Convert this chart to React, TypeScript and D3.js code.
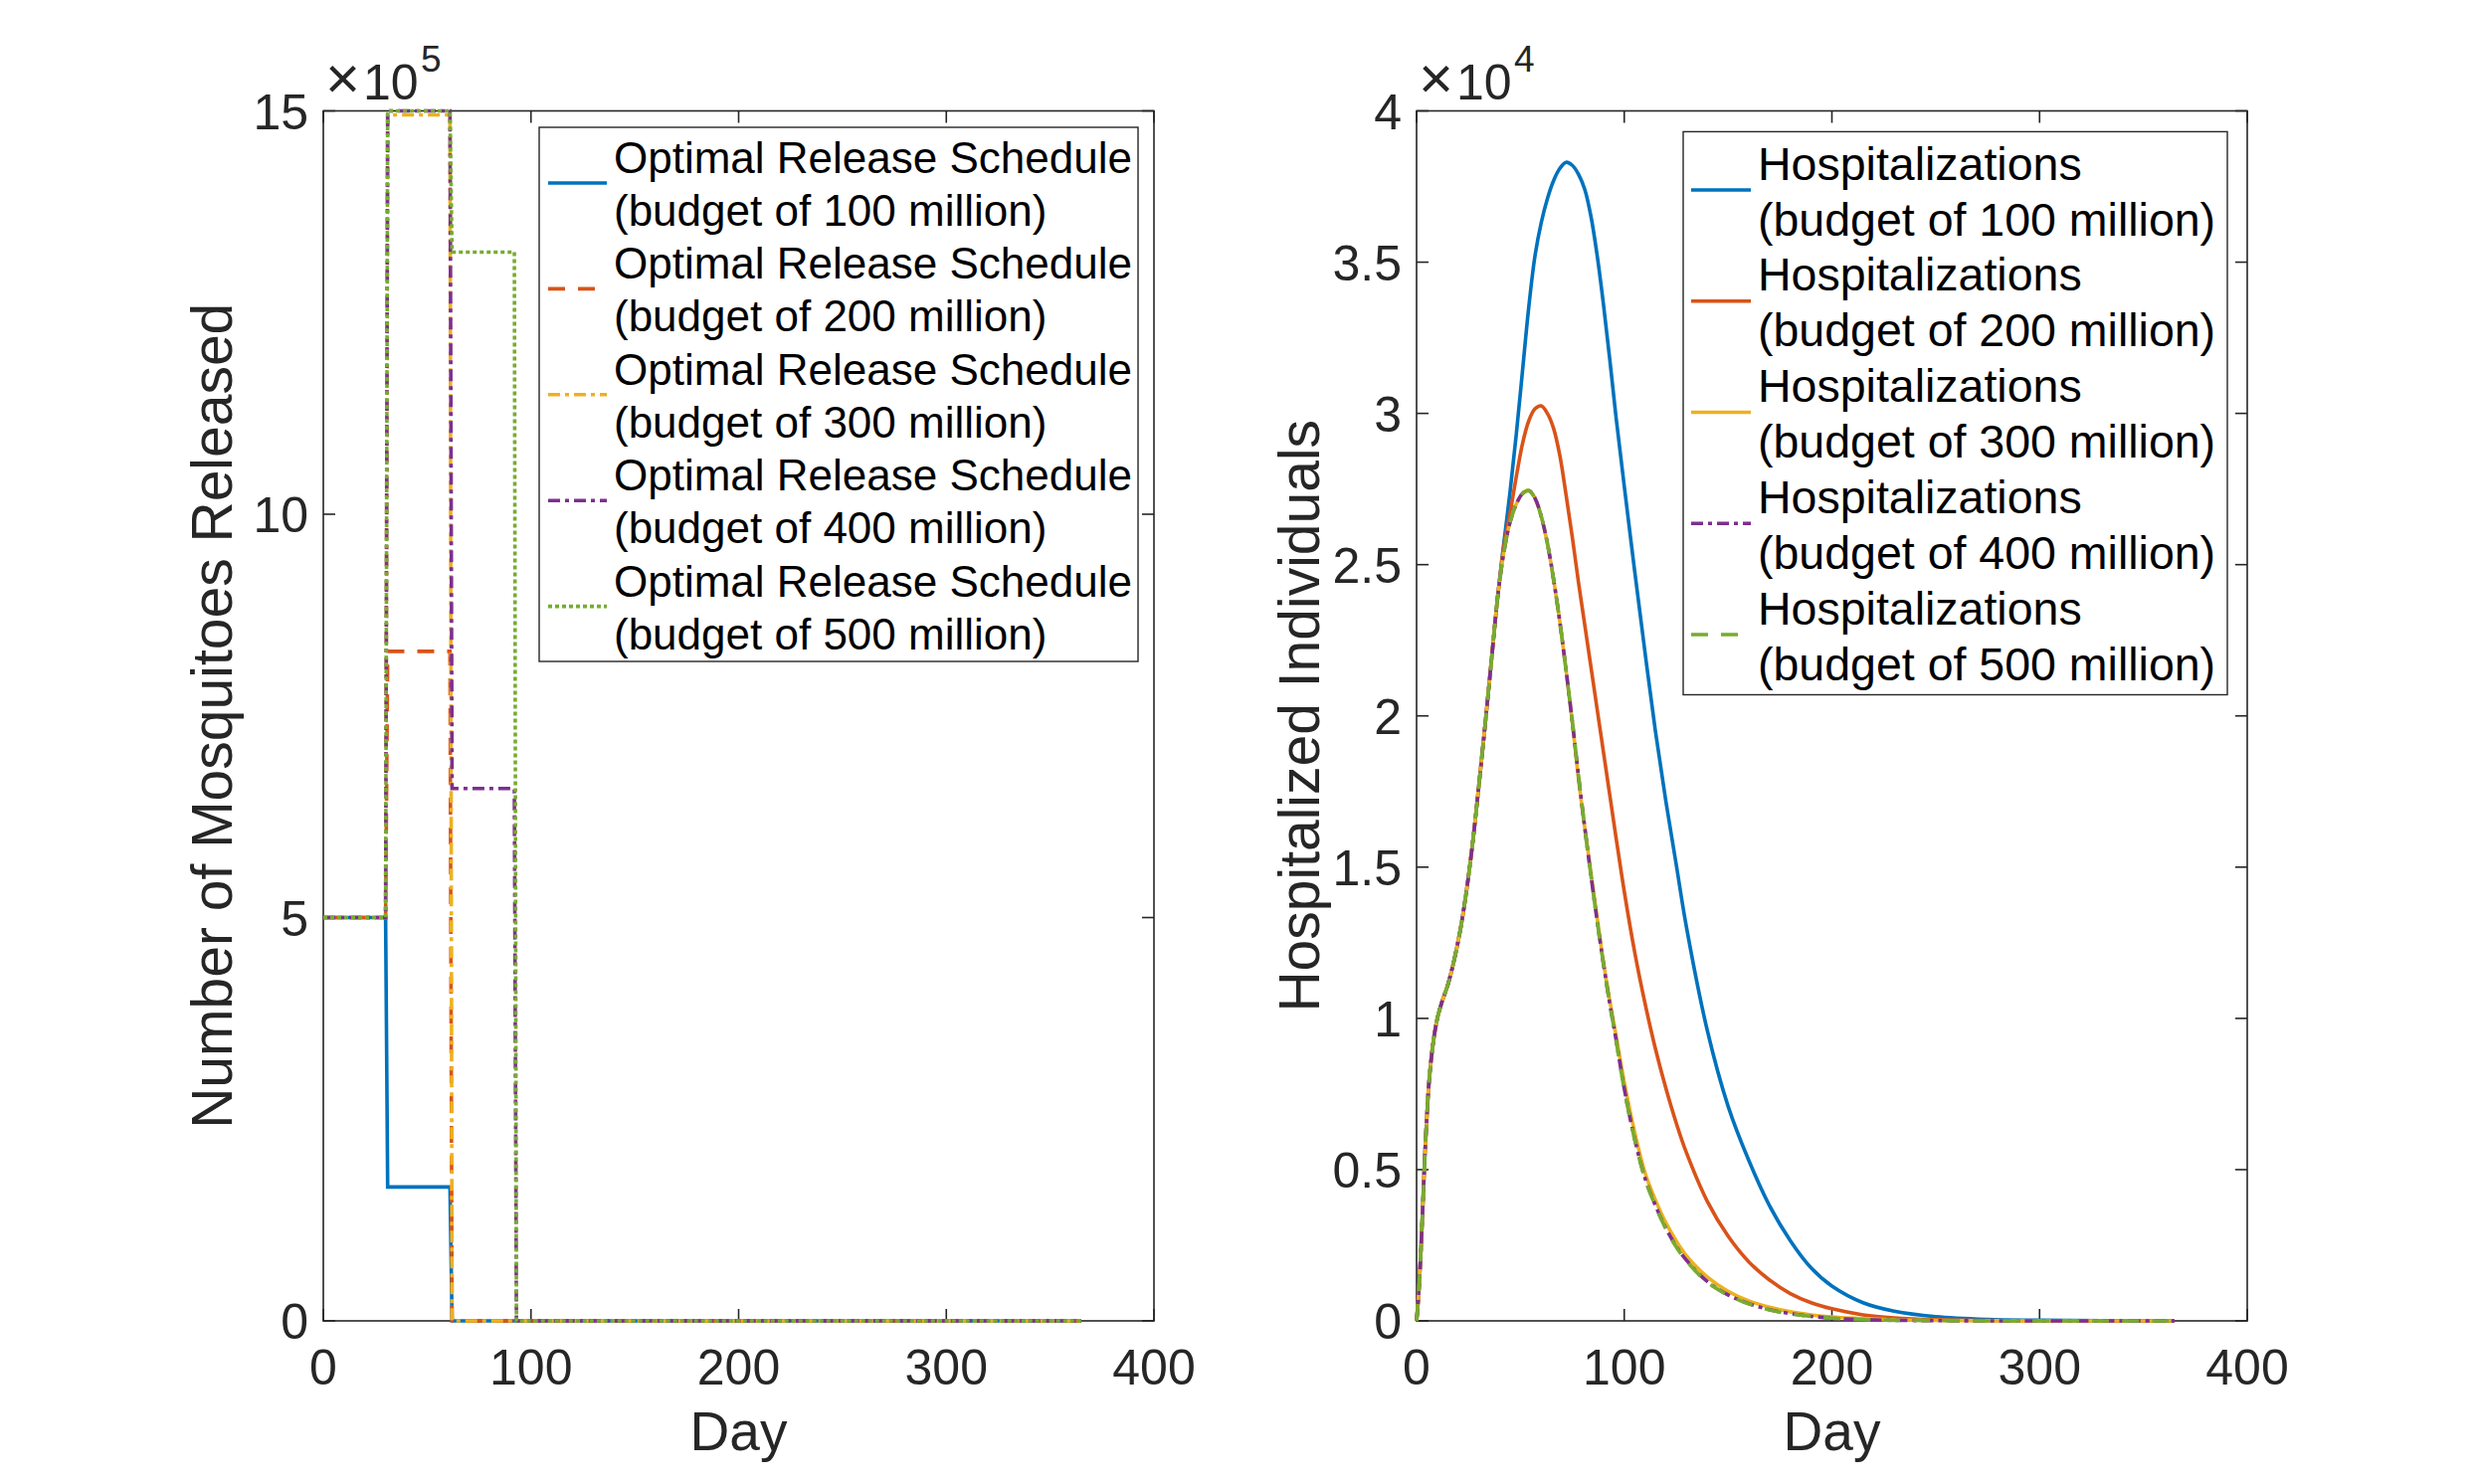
import React from 'react';
import * as d3 from 'd3';

// ---------- data ----------
const budgetLabels = [
  '(budget of 100 million)',
  '(budget of 200 million)',
  '(budget of 300 million)',
  '(budget of 400 million)',
  '(budget of 500 million)',
];
const releaseTitle = 'Optimal Release Schedule';
const hospTitle = 'Hospitalizations';

// release periods (days) and released mosquitoes (x 1e5)
const periodStart = [0, 31, 62, 93];
const periodEnd = [30, 61, 92, 365];
const release100 = [5, 1.66, 0, 0];
const release200 = [5, 8.3, 0, 0];
const release300 = [5, 14.95, 0, 0];
const release400 = [5, 15, 6.6, 0];
const release500 = [5, 15, 13.25, 0];

// hospitalized individuals (x 1e4)
const hospDays = [
  0, 1, 2, 3, 4, 5, 6, 8, 10, 12, 15, 18, 21, 24, 27, 30, 33, 36, 39,
  42, 45, 48, 51, 54, 57, 60, 63, 66, 69, 72, 75, 78, 81, 84, 87, 90, 93, 96,
  100, 105, 110, 115, 120, 125, 130, 140, 150, 160, 170, 180, 190, 200,
  215, 230, 250, 275, 300, 330, 365,
];
const hospRise = [
  0, 0.09, 0.22, 0.38, 0.55, 0.68, 0.79, 0.92, 1.0, 1.05, 1.11, 1.19, 1.29, 1.42, 1.58, 1.77, 1.97, 2.18, 2.39,
];
const hosp100 = hospRise.concat([
  2.57, 2.74, 2.93, 3.14, 3.35, 3.52, 3.63, 3.71, 3.77, 3.81, 3.83, 3.82, 3.79, 3.74, 3.65, 3.52, 3.36, 3.18, 2.99,
  2.76, 2.48, 2.21, 1.95, 1.72, 1.51, 1.3, 0.96, 0.71, 0.53, 0.38, 0.265, 0.175, 0.115,
  0.06, 0.032, 0.014, 0.005, 0.002, 0.001, 0,
]);
const hosp200 = hospRise.concat([
  2.56, 2.67, 2.79, 2.9, 2.975, 3.015, 3.025, 3.0, 2.95, 2.86, 2.73, 2.59, 2.44, 2.3, 2.16, 2.02, 1.88, 1.74, 1.6,
  1.42, 1.22, 1.05, 0.9, 0.77, 0.655, 0.555, 0.395, 0.28, 0.195, 0.135, 0.09, 0.06, 0.04,
  0.02, 0.01, 0.004, 0.0015, 0.0005, 0, 0,
]);
const hosp300 = hospRise.concat([
  2.54, 2.64, 2.7, 2.735, 2.745, 2.72, 2.66, 2.57, 2.45, 2.31, 2.15, 1.98, 1.79, 1.63, 1.48, 1.33, 1.185, 1.06, 0.945,
  0.79, 0.625, 0.49, 0.4, 0.325, 0.265, 0.215, 0.145, 0.098, 0.066, 0.045, 0.03, 0.02, 0.013,
  0.007, 0.0035, 0.0015, 0.0005, 0, 0, 0,
]);
const hosp400 = hospRise.concat([
  2.54, 2.64, 2.7, 2.735, 2.745, 2.72, 2.66, 2.57, 2.45, 2.31, 2.15, 1.98, 1.8, 1.63, 1.47, 1.32, 1.18, 1.05, 0.932,
  0.768, 0.602, 0.472, 0.382, 0.307, 0.247, 0.2, 0.13, 0.086, 0.057, 0.037, 0.024, 0.015, 0.009,
  0.004, 0.002, 0.001, 0, 0, 0, 0,
]);
const hosp500 = hospRise.concat([
  2.54, 2.64, 2.7, 2.735, 2.745, 2.72, 2.66, 2.57, 2.45, 2.31, 2.15, 1.98, 1.8, 1.63, 1.47, 1.32, 1.18, 1.05, 0.93,
  0.765, 0.6, 0.47, 0.38, 0.305, 0.245, 0.198, 0.128, 0.085, 0.056, 0.036, 0.023, 0.015, 0.009,
  0.004, 0.002, 0.001, 0, 0, 0, 0,
]);

const xTicks = [0, 100, 200, 300, 400];
const releaseTicks = [0, 5, 10, 15];
const hospTicks = [0, 0.5, 1, 1.5, 2, 2.5, 3, 3.5, 4];

const seriesColors = ['#0072BD', '#D95319', '#EDB120', '#7E2F8E', '#77AC30'];
const releaseDash = ['', '17,13', '12,5,4,5', '12,5,4,5', '4,3'];
const hospDash = ['', '', '', '12,5,4,5', '17,13'];

// ---------- layout ----------
const W = 2496;
const H = 1492;
const FONT = '"Liberation Sans", Arial, Helvetica, sans-serif';
const AX = '#262626';
const TOP = 111.5;
const BOTTOM = 1328;
const TICK = 12;
const LW = 3.6;

type AxesProps = {
  x0: number;
  x1: number;
  xScale: d3.ScaleLinear<number, number>;
  yScale: d3.ScaleLinear<number, number>;
  yTicks: number[];
  ylabel: string;
  ylabelX: number;
  exponent: string;
};

function Axes({ x0, x1, xScale, yScale, yTicks, ylabel, ylabelX, exponent }: AxesProps) {
  const cx = (x0 + x1) / 2;
  return (
    <g>
      <rect x={x0} y={TOP} width={x1 - x0} height={BOTTOM - TOP} fill="none" stroke={AX} strokeWidth={1.6} />
      {xTicks.map((t) => (
        <g key={'xt' + t}>
          <line x1={xScale(t)} x2={xScale(t)} y1={BOTTOM} y2={BOTTOM - TICK} stroke={AX} strokeWidth={1.6} />
          <line x1={xScale(t)} x2={xScale(t)} y1={TOP} y2={TOP + TICK} stroke={AX} strokeWidth={1.6} />
          <text x={xScale(t)} y={1392} textAnchor="middle" fontSize={50} fill={AX} fontFamily={FONT}>
            {String(t)}
          </text>
        </g>
      ))}
      {yTicks.map((t) => (
        <g key={'yt' + t}>
          <line x1={x0} x2={x0 + TICK} y1={yScale(t)} y2={yScale(t)} stroke={AX} strokeWidth={1.6} />
          <line x1={x1} x2={x1 - TICK} y1={yScale(t)} y2={yScale(t)} stroke={AX} strokeWidth={1.6} />
          <text x={x0 - 15} y={yScale(t)} dy="0.36em" textAnchor="end" fontSize={50} fill={AX} fontFamily={FONT}>
            {String(t)}
          </text>
        </g>
      ))}
      <text x={cx} y={1458} textAnchor="middle" fontSize={55} fill={AX} fontFamily={FONT}>
        Day
      </text>
      <text
        transform={`translate(${ylabelX},${(TOP + BOTTOM) / 2}) rotate(-90)`}
        textAnchor="middle"
        fontSize={57}
        fill={AX}
        fontFamily={FONT}
      >
        {ylabel}
      </text>
      <text x={x0 + 2} y={99} fontSize={60} fontWeight={300} fill={AX} fontFamily={FONT}>
        ×
      </text>
      <text x={x0 + 40} y={100} fontSize={50} fill={AX} fontFamily={FONT}>
        10
      </text>
      <text x={x0 + 98} y={72} fontSize={37} fill={AX} fontFamily={FONT}>
        {exponent}
      </text>
    </g>
  );
}

type LegendProps = {
  bx0: number;
  bx1: number;
  by0: number;
  by1: number;
  sx0: number;
  sx1: number;
  textX: number;
  cy0: number;
  step: number;
  up: number;
  down: number;
  fontSize: number;
  title: string;
  dashes: string[];
};

function Legend({ bx0, bx1, by0, by1, sx0, sx1, textX, cy0, step, up, down, fontSize, title, dashes }: LegendProps) {
  return (
    <g>
      <rect x={bx0} y={by0} width={bx1 - bx0} height={by1 - by0} fill="#fff" stroke={AX} strokeWidth={1.4} />
      {budgetLabels.map((lab, i) => {
        const cy = cy0 + step * i;
        return (
          <g key={lab}>
            <line
              x1={sx0}
              x2={sx1}
              y1={cy}
              y2={cy}
              stroke={seriesColors[i]}
              strokeWidth={LW}
              strokeDasharray={dashes[i] || undefined}
            />
            <text x={textX} y={cy - up} fontSize={fontSize} fill="#000" fontFamily={FONT}>
              {title}
            </text>
            <text x={textX} y={cy + down} fontSize={fontSize} fill="#000" fontFamily={FONT}>
              {lab}
            </text>
          </g>
        );
      })}
    </g>
  );
}

export default function App() {
  // left panel
  const lx0 = 325;
  const lx1 = 1160;
  const lxScale = d3.scaleLinear().domain([0, 400]).range([lx0, lx1]);
  const lyScale = d3.scaleLinear().domain([0, 15]).range([BOTTOM, TOP]);
  const releaseSeries = [release100, release200, release300, release400, release500];
  const stepLine = d3
    .line<[number, number]>()
    .x((d) => lxScale(d[0]))
    .y((d) => lyScale(d[1]));
  const releasePaths = releaseSeries.map((vals) => {
    const pts: [number, number][] = [];
    vals.forEach((v, i) => {
      pts.push([periodStart[i], v]);
      pts.push([periodEnd[i], v]);
    });
    return stepLine(pts) || '';
  });

  // right panel
  const rx0 = 1424;
  const rx1 = 2259;
  const rxScale = d3.scaleLinear().domain([0, 400]).range([rx0, rx1]);
  const ryScale = d3.scaleLinear().domain([0, 4]).range([BOTTOM, TOP]);
  const hospSeries = [hosp100, hosp200, hosp300, hosp400, hosp500];
  const curve = d3
    .line<number>()
    .x((_, i) => rxScale(hospDays[i]))
    .y((d) => ryScale(d))
    .curve(d3.curveCatmullRom.alpha(0.5));
  const hospPaths = hospSeries.map((vals) => curve(vals) || '');

  return (
    <svg
      width={W}
      height={H}
      viewBox={`0 0 ${W} ${H}`}
      style={{ position: 'absolute', left: 0, top: 0, background: '#fff' }}
    >
      <rect x={0} y={0} width={W} height={H} fill="#fff" />
      <Axes
        x0={lx0}
        x1={lx1}
        xScale={lxScale}
        yScale={lyScale}
        yTicks={releaseTicks}
        ylabel="Number of Mosquitoes Released"
        ylabelX={233}
        exponent="5"
      />
      {releasePaths.map((d, i) => (
        <path
          key={'r' + i}
          d={d}
          fill="none"
          stroke={seriesColors[i]}
          strokeWidth={LW}
          strokeDasharray={releaseDash[i] || undefined}
        />
      ))}
      <Legend
        bx0={542}
        bx1={1144}
        by0={128}
        by1={665}
        sx0={551}
        sx1={610}
        textX={617}
        cy0={184}
        step={106.4}
        up={10}
        down={43}
        fontSize={44}
        title={releaseTitle}
        dashes={releaseDash}
      />

      <Axes
        x0={rx0}
        x1={rx1}
        xScale={rxScale}
        yScale={ryScale}
        yTicks={hospTicks}
        ylabel="Hospitalized Individuals"
        ylabelX={1326}
        exponent="4"
      />
      {hospPaths.map((d, i) => (
        <path
          key={'h' + i}
          d={d}
          fill="none"
          stroke={seriesColors[i]}
          strokeWidth={LW}
          strokeLinejoin="round"
          strokeDasharray={hospDash[i] || undefined}
        />
      ))}
      <Legend
        bx0={1692}
        bx1={2239}
        by0={132.4}
        by1={698.5}
        sx0={1700}
        sx1={1760}
        textX={1767}
        cy0={191}
        step={111.75}
        up={10.5}
        down={45.5}
        fontSize={46.5}
        title={hospTitle}
        dashes={hospDash}
      />
    </svg>
  );
}
